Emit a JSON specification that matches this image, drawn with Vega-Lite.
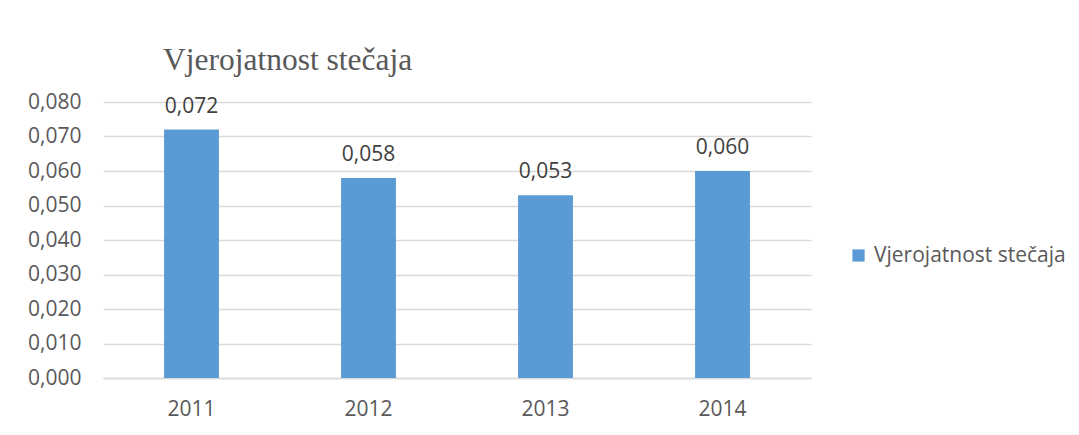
{
  "$schema": "https://vega.github.io/schema/vega-lite/v6.json",
  "autosize": "none",
  "width": 708,
  "height": 276,
  "padding": {"left": 103, "top": 102, "right": 268, "bottom": 57},
  "background": "white",
  "config": {
    "locale": {"number": {"decimal": ",", "thousands": ".", "grouping": [3], "currency": ["", ""]}},
    "view": {"stroke": null},
    "font": "Open Sans"
  },
  "title": {
    "text": "Vjerojatnost stečaja",
    "anchor": "start",
    "frame": "group",
    "dx": 60,
    "dy": 45,
    "offset": 28,
    "baseline": "bottom",
    "font": "Liberation Serif",
    "fontSize": 31.5,
    "fontWeight": "normal",
    "color": "#595959"
  },
  "data": {
    "values": [
      {"year": "2011", "value": 0.072, "series": "Vjerojatnost stečaja"},
      {"year": "2012", "value": 0.058, "series": "Vjerojatnost stečaja"},
      {"year": "2013", "value": 0.053, "series": "Vjerojatnost stečaja"},
      {"year": "2014", "value": 0.060, "series": "Vjerojatnost stečaja"}
    ]
  },
  "encoding": {
    "x": {
      "field": "year",
      "type": "nominal",
      "scale": {"paddingInner": 0.69, "paddingOuter": 0.345},
      "axis": {
        "title": null,
        "labelAngle": 0,
        "ticks": false,
        "domainColor": "#d9d9d9",
        "domainWidth": 1.5,
        "labelPadding": 20,
        "labelFontSize": 21,
        "labelColor": "#595959",
        "labelFont": "Open Sans"
      }
    },
    "y": {
      "field": "value",
      "type": "quantitative",
      "scale": {"domain": [0, 0.08]},
      "axis": {
        "title": null,
        "values": [0, 0.01, 0.02, 0.03, 0.04, 0.05, 0.06, 0.07, 0.08],
        "labelOverlap": false,
        "format": ".3f",
        "domain": false,
        "ticks": false,
        "gridColor": "#d9d9d9",
        "gridWidth": 1.5,
        "labelPadding": 22,
        "labelFontSize": 21,
        "labelColor": "#595959",
        "labelFont": "Open Sans"
      }
    }
  },
  "layer": [
    {
      "mark": {"type": "bar", "color": "#5b9bd5"},
      "encoding": {
        "color": {
          "field": "series",
          "type": "nominal",
          "scale": {"range": ["#5b9bd5"]},
          "legend": {
            "title": null,
            "orient": "none",
            "legendX": 745,
            "legendY": 143,
            "symbolType": "square",
            "symbolSize": 150,
            "symbolStrokeWidth": 0,
            "labelFontSize": 21,
            "labelLimit": 0,
            "labelColor": "#595959",
            "labelFont": "Open Sans",
            "labelOffset": 5
          }
        }
      }
    },
    {
      "mark": {"type": "text", "baseline": "bottom", "dy": -13, "fontSize": 21, "color": "#404040", "font": "Open Sans"},
      "encoding": {
        "text": {"field": "value", "type": "quantitative", "format": ".3f"}
      }
    }
  ]
}
